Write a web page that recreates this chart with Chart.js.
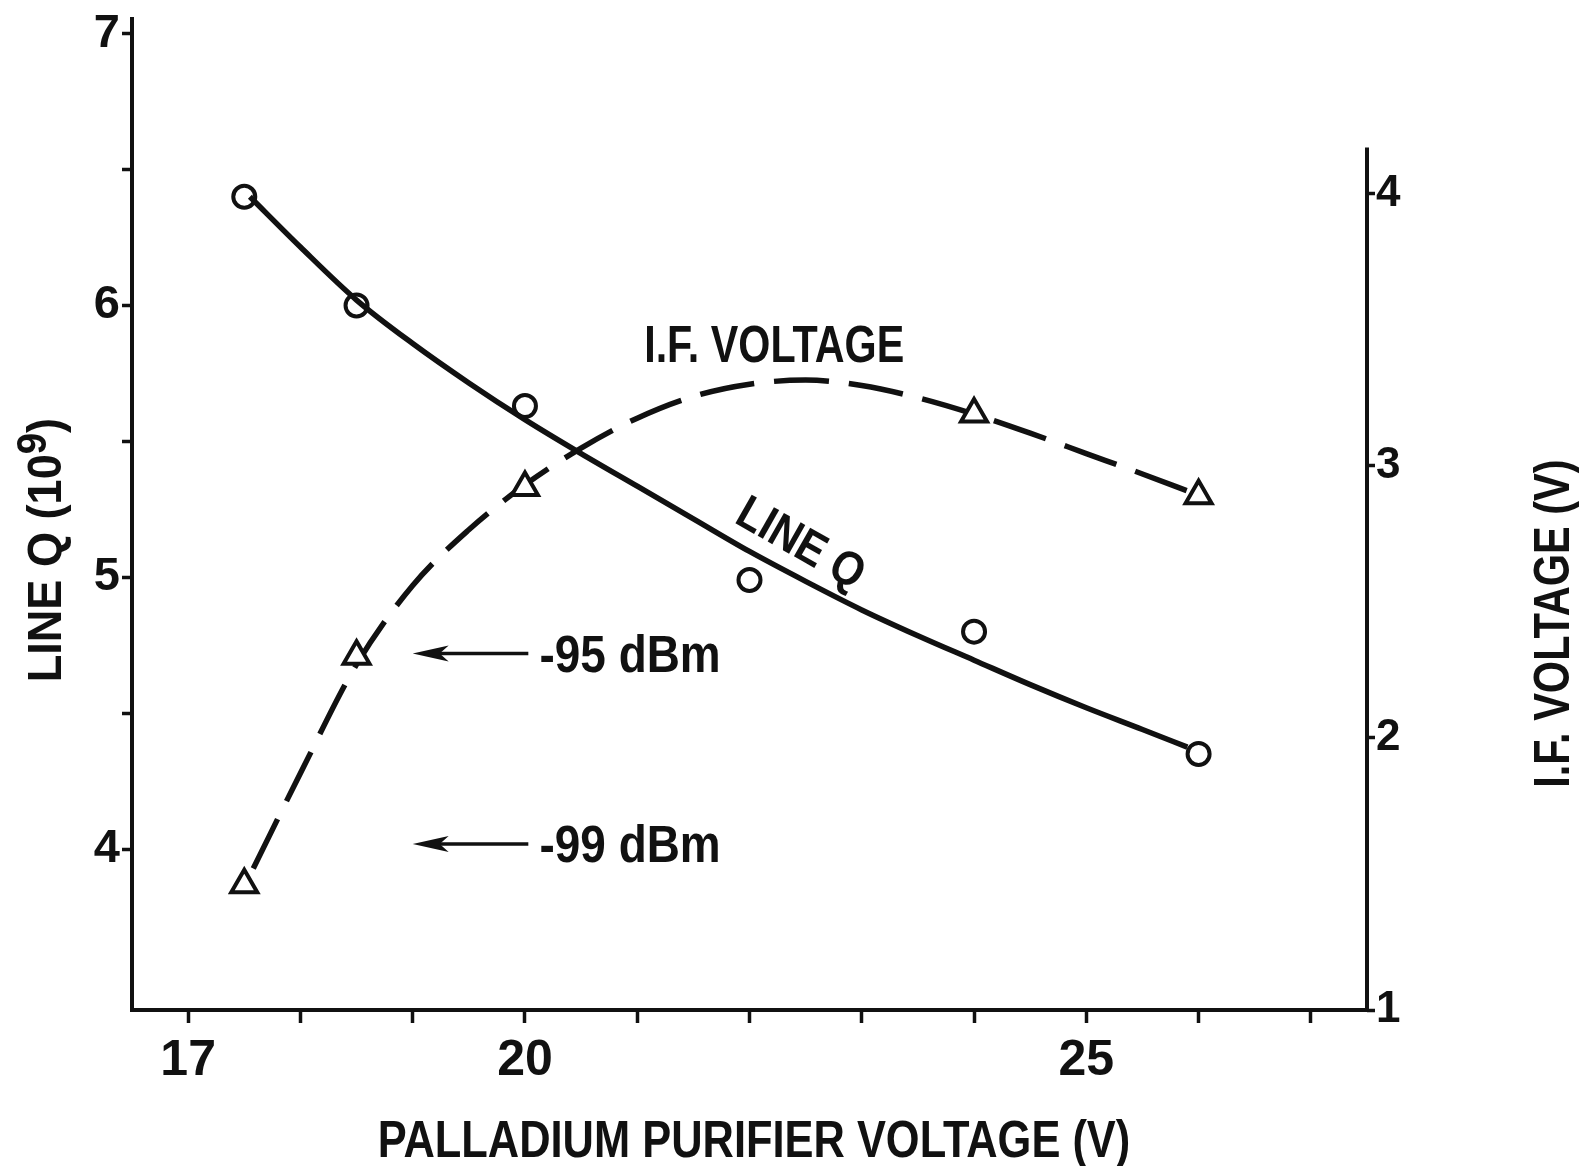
<!DOCTYPE html>
<html>
<head>
<meta charset="utf-8">
<script src="https://cdn.jsdelivr.net/npm/chart.js@4.4.1/dist/chart.umd.min.js"></script>
<style>
  html, body { margin: 0; padding: 0; background: #ffffff; }
  #wrap { position: relative; width: 1588px; height: 1166px; }
  canvas { display: block; }
</style>
</head>
<body>
<div id="wrap"><canvas id="c" width="1588" height="1166"></canvas></div>
<script>
// ---------------- data ----------------
const lineQPointsX = [17.5, 18.5, 20.0, 22.0, 24.0, 26.0];
const lineQPointsY = [6.40, 6.00, 5.63, 4.99, 4.80, 4.35];

const ifPointsX = [17.5, 18.5, 20.0, 24.0, 26.0];
const ifPointsY = [1.46, 2.30, 2.92, 3.19, 2.89];

// hand-drawn fitted curves
const lineQCurveX = [17.55, 18.0, 18.5, 19.0, 19.5, 20.0, 20.5, 21.0, 21.5, 22.0, 22.5, 23.0, 23.5, 24.0, 24.5, 25.0, 25.5, 25.9];
const lineQCurveY = [6.40, 6.215, 6.02, 5.86, 5.715, 5.58, 5.455, 5.335, 5.215, 5.095, 4.985, 4.88, 4.785, 4.695, 4.605, 4.52, 4.44, 4.375];

const ifCurveX = [17.58, 18.0, 18.5, 19.0, 19.5, 20.0, 20.5, 21.0, 21.5, 22.0, 22.5, 23.0, 23.5, 24.0, 24.5, 25.0, 25.5, 25.95];
const ifCurveY = [1.52, 1.87, 2.27, 2.56, 2.765, 2.93, 3.065, 3.175, 3.255, 3.30, 3.315, 3.295, 3.25, 3.19, 3.12, 3.045, 2.97, 2.90];

// axes
const xTicks = [17, 18, 19, 20, 21, 22, 23, 24, 25, 26, 27];
const xLabeledTicks = [17, 20, 25];
const lineQTicks = [4, 4.5, 5, 5.5, 6, 6.5, 7];
const ifTicks = [1, 2, 3, 4];

// signal-level markers (I.F. voltage reached at each input level)
const levelLabels = ['-95 dBm', '-99 dBm'];
const levelIF = [2.31, 1.61];

// ---------------- styling ----------------
const INK = '#111111';
const FONT = '"Liberation Sans", Arial, "Helvetica", sans-serif';
Chart.defaults.font.family = FONT;
Chart.defaults.color = INK;

function pts(xs, ys) { return xs.map((x, i) => ({ x: x, y: ys[i] })); }

function drawText(ctx, text, x, y, o) {
  ctx.save();
  ctx.translate(x, y);
  if (o.rot) ctx.rotate(o.rot);
  ctx.scale(o.sx || 1, 1);
  ctx.font = 'bold ' + o.size + 'px ' + FONT;
  ctx.textAlign = o.align || 'center';
  ctx.textBaseline = o.baseline || 'alphabetic';
  ctx.fillStyle = INK;
  ctx.fillText(text, 0, 0);
  ctx.restore();
}

// title with a superscript part: parts = [{t, scale, raise}]
function drawParts(ctx, parts, x, y, o) {
  ctx.save();
  ctx.translate(x, y);
  if (o.rot) ctx.rotate(o.rot);
  ctx.scale(o.sx || 1, 1);
  ctx.fillStyle = INK;
  ctx.textBaseline = 'alphabetic';
  ctx.textAlign = 'left';
  let total = 0;
  const widths = parts.map(p => {
    ctx.font = 'bold ' + (o.size * (p.scale || 1)) + 'px ' + FONT;
    const w = ctx.measureText(p.t).width;
    total += w;
    return w;
  });
  let cx = -total / 2;
  parts.forEach((p, i) => {
    ctx.font = 'bold ' + (o.size * (p.scale || 1)) + 'px ' + FONT;
    ctx.fillText(p.t, cx, -(p.raise || 0) * o.size);
    cx += widths[i];
  });
  ctx.restore();
}

const annotationPlugin = {
  id: 'figureAnnotations',
  afterDraw(chart) {
    const ctx = chart.ctx;
    const xs = chart.scales.x, yq = chart.scales.yQ, yf = chart.scales.yIF;
    const area = chart.chartArea;

    // right axis line (only spans the I.F. range)
    ctx.save();
    ctx.strokeStyle = INK;
    ctx.lineWidth = 4;
    ctx.beginPath();
    ctx.moveTo(area.right, area.bottom + 2);
    ctx.lineTo(area.right, yf.getPixelForValue(4.17));
    ctx.stroke();
    ctx.restore();

    // axis titles
    drawParts(ctx, [
      { t: 'LINE Q (10' },
      { t: '9', scale: 0.85, raise: 0.3 },
      { t: ')' }
    ], 61, yq.getPixelForValue(5.10), { size: 49, sx: 0.92, rot: -Math.PI / 2 });

    drawText(ctx, 'I.F. VOLTAGE (V)', 1569, yf.getPixelForValue(2.42), { size: 50, sx: 0.83, rot: -Math.PI / 2 });

    drawText(ctx, 'PALLADIUM PURIFIER VOLTAGE (V)', xs.getPixelForValue(22.04), 1157, { size: 52, sx: 0.835 });

    // curve labels
    drawText(ctx, 'I.F. VOLTAGE', xs.getPixelForValue(22.22), yf.getPixelForValue(3.38), { size: 51, sx: 0.81 });
    drawText(ctx, 'LINE Q', xs.getPixelForValue(22.45), yq.getPixelForValue(5.12), { size: 48, sx: 0.87, rot: 29.5 * Math.PI / 180, baseline: 'middle' });

    // level arrows
    levelLabels.forEach((lab, i) => {
      const y = yf.getPixelForValue(levelIF[i]);
      const tip = xs.getPixelForValue(19.0);
      const tail = xs.getPixelForValue(20.03);
      ctx.save();
      ctx.strokeStyle = INK;
      ctx.fillStyle = INK;
      ctx.lineWidth = 3.5;
      ctx.beginPath();
      ctx.moveTo(tip + 20, y);
      ctx.lineTo(tail, y);
      ctx.stroke();
      ctx.beginPath();
      ctx.moveTo(tip, y);
      ctx.lineTo(tip + 36, y - 8);
      ctx.lineTo(tip + 27, y);
      ctx.lineTo(tip + 36, y + 8);
      ctx.closePath();
      ctx.fill();
      ctx.restore();
      drawText(ctx, lab, xs.getPixelForValue(20.13), y + 18, { size: 51, sx: 0.9, align: 'left' });
    });
  }
};

const ctx = document.getElementById('c').getContext('2d');
new Chart(ctx, {
  type: 'scatter',
  data: {
    datasets: [
      {
        label: 'Line Q (fitted)',
        data: pts(lineQCurveX, lineQCurveY),
        yAxisID: 'yQ',
        showLine: true,
        borderColor: INK,
        borderWidth: 5.5,
        pointRadius: 0,
        cubicInterpolationMode: 'monotone',
        order: 2
      },
      {
        label: 'I.F. voltage (fitted)',
        data: pts(ifCurveX, ifCurveY),
        yAxisID: 'yIF',
        showLine: true,
        borderColor: INK,
        borderWidth: 5.5,
        borderDash: [55, 20],
        pointRadius: 0,
        cubicInterpolationMode: 'monotone',
        order: 2
      },
      {
        label: 'Line Q',
        data: pts(lineQPointsX, lineQPointsY),
        yAxisID: 'yQ',
        showLine: false,
        pointStyle: 'circle',
        pointRadius: 11,
        pointBorderWidth: 4,
        pointBorderColor: INK,
        pointBackgroundColor: 'rgba(0,0,0,0)',
        order: 1
      },
      {
        label: 'I.F. voltage',
        data: pts(ifPointsX, ifPointsY),
        yAxisID: 'yIF',
        showLine: false,
        pointStyle: 'triangle',
        pointRadius: 15,
        pointBorderWidth: 4,
        pointBorderColor: INK,
        pointBackgroundColor: '#ffffff',
        order: 1
      }
    ]
  },
  options: {
    responsive: false,
    animation: false,
    devicePixelRatio: 1,
    layout: { padding: { top: 12, left: 0, right: 0, bottom: 0 } },
    plugins: { legend: { display: false }, tooltip: { enabled: false } },
    scales: {
      x: {
        type: 'linear',
        position: 'bottom',
        min: 16.5,
        max: 27.5,
        afterBuildTicks: s => { s.ticks = xTicks.map(v => ({ value: v })); },
        ticks: {
          callback: v => (xLabeledTicks.includes(v) ? String(v) : ''),
          font: { size: 50, weight: 'bold' },
          color: INK,
          padding: 8,
          autoSkip: false,
          maxRotation: 0
        },
        grid: { drawOnChartArea: false, drawTicks: true, tickLength: 13, tickWidth: 3.5, tickColor: INK, color: INK },
        border: { display: true, color: INK, width: 4 },
        afterFit: s => { s.height = 156; s.paddingLeft = 0; s.paddingRight = 0; }
      },
      yQ: {
        type: 'linear',
        position: 'left',
        min: 3.408,
        max: 7.054,
        afterBuildTicks: s => { s.ticks = lineQTicks.map(v => ({ value: v })); },
        ticks: {
          callback: v => (Number.isInteger(v) ? String(v) : ''),
          font: { size: 47, weight: 'bold' },
          color: INK,
          padding: 2,
          autoSkip: false
        },
        grid: { drawOnChartArea: false, drawTicks: true, tickLength: 10, tickWidth: 3.5, tickColor: INK, color: INK },
        border: { display: true, color: INK, width: 4 },
        afterFit: s => { s.width = 132; s.paddingTop = 0; s.paddingBottom = 0; }
      },
      yIF: {
        type: 'linear',
        position: 'right',
        min: 1.0,
        max: 4.642,
        afterBuildTicks: s => { s.ticks = ifTicks.map(v => ({ value: v })); },
        ticks: {
          callback: v => String(v),
          font: { size: 44, weight: 'bold' },
          color: INK,
          padding: 1,
          autoSkip: false
        },
        grid: { drawOnChartArea: false, drawTicks: true, tickLength: 8, tickWidth: 3.5, tickColor: INK, color: INK },
        border: { display: false },
        afterFit: s => { s.width = 221; s.paddingTop = 0; s.paddingBottom = 0; }
      }
    }
  },
  plugins: [annotationPlugin]
});
</script>
</body>
</html>
